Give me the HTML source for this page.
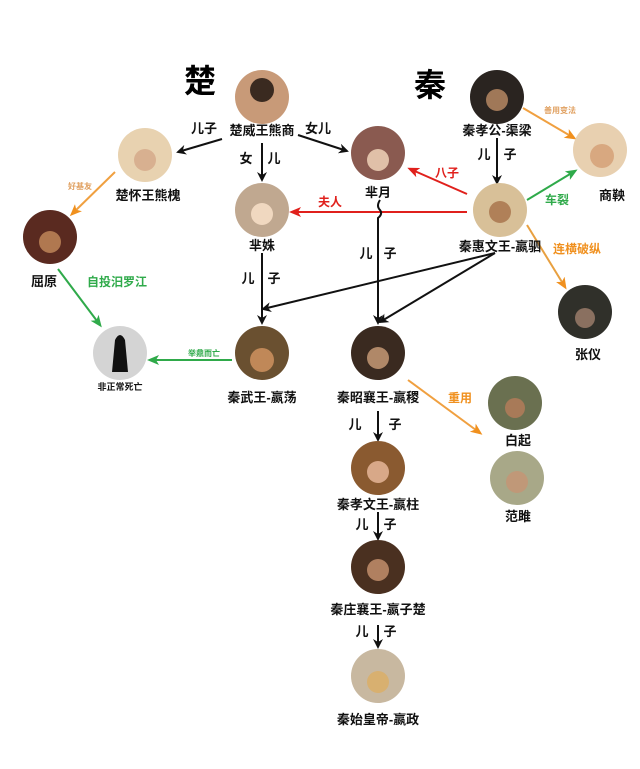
<!DOCTYPE html>
<html><head><meta charset="utf-8"><style>
html,body{margin:0;padding:0;background:#fff}
svg text{font-family:"Liberation Sans","Noto Sans CJK SC",sans-serif;font-weight:bold;text-anchor:middle}
</style></head><body>
<svg width="640" height="764" viewBox="0 0 640 764" xmlns="http://www.w3.org/2000/svg">
<defs>
<marker id="ak" markerWidth="10" markerHeight="10" refX="8" refY="5" orient="auto" markerUnits="userSpaceOnUse"><path d="M0,0 L10,5 L0,10 L3,5z" fill="#111"/></marker>
<marker id="ar" markerWidth="12" markerHeight="10" refX="9" refY="5" orient="auto" markerUnits="userSpaceOnUse"><path d="M0,0 L12,5 L0,10 L3,5z" fill="#e0201c"/></marker>
<marker id="ao" markerWidth="12" markerHeight="10" refX="9" refY="5" orient="auto" markerUnits="userSpaceOnUse"><path d="M0,0 L12,5 L0,10 L3,5z" fill="#f0901e"/></marker>
<marker id="ag" markerWidth="12" markerHeight="10" refX="9" refY="5" orient="auto" markerUnits="userSpaceOnUse"><path d="M0,0 L12,5 L0,10 L3,5z" fill="#2faa4a"/></marker>
</defs>
<text x="200" y="92" font-size="32">楚</text>
<text x="430" y="96" font-size="32">秦</text>

<g stroke-width="2" fill="none">
<line x1="222" y1="139" x2="178" y2="152" stroke="#111" marker-end="url(#ak)"/>
<line x1="298" y1="135" x2="347" y2="151" stroke="#111" marker-end="url(#ak)"/>
<line x1="262" y1="143" x2="262" y2="180" stroke="#111" marker-end="url(#ak)"/>
<line x1="497" y1="138" x2="497" y2="183" stroke="#111" marker-end="url(#ak)"/>
<line x1="523" y1="108" x2="574" y2="138" stroke="#f0a040" marker-end="url(#ao)"/>
<line x1="527" y1="200" x2="575" y2="171" stroke="#2faa4a" marker-end="url(#ag)"/>
<line x1="467" y1="194" x2="410" y2="169" stroke="#e0201c" marker-end="url(#ar)"/>
<line x1="467" y1="212" x2="292" y2="212" stroke="#e0201c" marker-end="url(#ar)"/>
<line x1="527" y1="225" x2="565" y2="287" stroke="#e8a040" marker-end="url(#ao)"/>
<path d="M380,200 q-4,6 0,10 q3,4 -2,8 L378,323" stroke="#111" marker-end="url(#ak)"/>
<line x1="495" y1="253" x2="263" y2="309" stroke="#111" marker-end="url(#ak)"/>
<line x1="495" y1="253" x2="380" y2="322" stroke="#111" marker-end="url(#ak)"/>
<line x1="262" y1="253" x2="262" y2="323" stroke="#111" marker-end="url(#ak)"/>
<line x1="115" y1="172" x2="72" y2="214" stroke="#f0a040" marker-end="url(#ao)"/>
<line x1="58" y1="269" x2="100" y2="325" stroke="#2faa4a" marker-end="url(#ag)"/>
<line x1="232" y1="360" x2="150" y2="360" stroke="#2faa4a" marker-end="url(#ag)"/>
<line x1="408" y1="380" x2="480" y2="433" stroke="#f0a040" marker-end="url(#ao)"/>
<line x1="378" y1="411" x2="378" y2="440" stroke="#111" marker-end="url(#ak)"/>
<line x1="378" y1="512" x2="378" y2="539" stroke="#111" marker-end="url(#ak)"/>
<line x1="378" y1="625" x2="378" y2="647" stroke="#111" marker-end="url(#ak)"/>
</g>

<g>
<circle cx="262" cy="97" r="27" fill="#c89a78"/><circle cx="262" cy="90" r="12" fill="#3a2a20"/>
<circle cx="497" cy="97" r="27" fill="#2a2420"/><circle cx="497" cy="100" r="11" fill="#a07858"/>
<circle cx="145" cy="155" r="27" fill="#e8d2b0"/><circle cx="145" cy="160" r="11" fill="#d8b090"/>
<circle cx="378" cy="153" r="27" fill="#8a5a50"/><circle cx="378" cy="160" r="11" fill="#e0c0a8"/>
<circle cx="600" cy="150" r="27" fill="#e8d0b0"/><circle cx="602" cy="156" r="12" fill="#d8a880"/>
<circle cx="262" cy="210" r="27" fill="#c0a890"/><circle cx="262" cy="214" r="11" fill="#f0d8c0"/>
<circle cx="500" cy="210" r="27" fill="#d8c098"/><circle cx="500" cy="212" r="11" fill="#b08058"/>
<circle cx="50" cy="237" r="27" fill="#5a2a20"/><circle cx="50" cy="242" r="11" fill="#b07850"/>
<circle cx="585" cy="312" r="27" fill="#30302a"/><circle cx="585" cy="318" r="10" fill="#8a7060"/>
<circle cx="120" cy="353" r="27" fill="#d4d4d4"/><path d="M112,372 L115,340 Q120,330 125,340 L128,372z" fill="#111"/>
<circle cx="262" cy="353" r="27" fill="#6a5030"/><circle cx="262" cy="360" r="12" fill="#c08858"/>
<circle cx="378" cy="353" r="27" fill="#3a2a20"/><circle cx="378" cy="358" r="11" fill="#b08868"/>
<circle cx="515" cy="403" r="27" fill="#6a7050"/><circle cx="515" cy="408" r="10" fill="#a87a58"/>
<circle cx="517" cy="478" r="27" fill="#a8a888"/><circle cx="517" cy="482" r="11" fill="#c09878"/>
<circle cx="378" cy="468" r="27" fill="#8a5a30"/><circle cx="378" cy="472" r="11" fill="#d8a888"/>
<circle cx="378" cy="567" r="27" fill="#4a3020"/><circle cx="378" cy="570" r="11" fill="#b08060"/>
<circle cx="378" cy="676" r="27" fill="#c8b8a0"/><circle cx="378" cy="682" r="11" fill="#d8b070"/>
</g>

<g font-size="13" fill="#111">
<text x="262" y="135">楚威王熊商</text>
<text x="497" y="135">秦孝公-渠梁</text>
<text x="148" y="200">楚怀王熊槐</text>
<text x="378" y="197">芈月</text>
<text x="612" y="200">商鞅</text>
<text x="262" y="250">芈姝</text>
<text x="500" y="251">秦惠文王-嬴驷</text>
<text x="44" y="286">屈原</text>
<text x="588" y="359">张仪</text>
<text x="262" y="402">秦武王-嬴荡</text>
<text x="378" y="402">秦昭襄王-嬴稷</text>
<text x="518" y="445">白起</text>
<text x="518" y="521">范雎</text>
<text x="378" y="509">秦孝文王-嬴柱</text>
<text x="378" y="614">秦庄襄王-嬴子楚</text>
<text x="378" y="724">秦始皇帝-嬴政</text>
<text x="120" y="390" font-size="9" font-weight="normal">非正常死亡</text>
</g>

<g font-size="13" fill="#111">
<text x="204" y="133">儿子</text>
<text x="318" y="133">女儿</text>
<text x="246" y="163">女</text><text x="274" y="163">儿</text>
<text x="484" y="159">儿</text><text x="510" y="159">子</text>
<text x="366" y="258">儿</text><text x="390" y="258">子</text>
<text x="248" y="283">儿</text><text x="274" y="283">子</text>
<text x="355" y="429">儿</text><text x="395" y="429">子</text>
<text x="362" y="529">儿</text><text x="390" y="529">子</text>
<text x="362" y="636">儿</text><text x="390" y="636">子</text>
</g>
<g font-size="12">
<text x="447" y="177" fill="#e0201c">八子</text>
<text x="330" y="206" fill="#e0201c">夫人</text>
<text x="557" y="204" fill="#2faa4a">车裂</text>
<text x="577" y="253" fill="#f0901e">连横破纵</text>
<text x="460" y="402" fill="#f0901e">重用</text>
<text x="117" y="286" fill="#2faa4a">自投汨罗江</text>
<text x="560" y="113" font-size="8" font-weight="normal" fill="#e0a060">善用变法</text>
<text x="80" y="189" font-size="8" font-weight="normal" fill="#e0a060">好基友</text>
<text x="204" y="356" font-size="8" font-weight="normal" fill="#2faa4a">举鼎而亡</text>
</g>
</svg>
</body></html>
